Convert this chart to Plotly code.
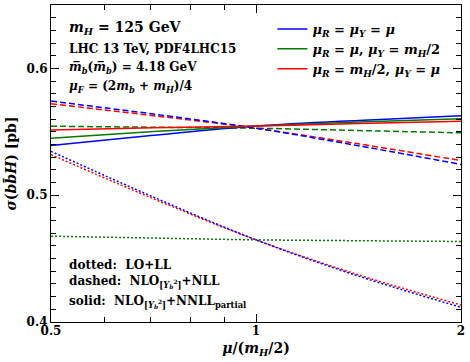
import plotly.graph_objects as go

# scale mu/(mH/2)
mu = [0.5, 0.7071, 1.0, 1.4142, 2.0]

# cross sections [pb]
blue_dotted = [0.5346, 0.4985, 0.4648, 0.4362, 0.4116]
red_dotted = [0.5320, 0.4972, 0.4648, 0.4372, 0.4134]
green_dotted = [0.4677, 0.4662, 0.4648, 0.4641, 0.4635]

blue_dashed = [0.5742, 0.5640, 0.5528, 0.5390, 0.5243]
red_dashed = [0.5721, 0.5627, 0.5528, 0.5405, 0.5273]
green_dashed = [0.5544, 0.5536, 0.5528, 0.5510, 0.5492]

blue_solid = [0.5391, 0.5472, 0.5545, 0.5590, 0.5626]
green_solid = [0.5449, 0.5502, 0.5545, 0.5578, 0.5602]
red_solid = [0.5515, 0.5531, 0.5545, 0.5565, 0.5583]

BLUE, GREEN, RED = "#0000ff", "#007a00", "#ff0000"
FONT = "DejaVu Serif"

legend_names = [
    "<i>μ</i><sub><i>R</i></sub> = <i>μ</i><sub><i>Y</i></sub> = <i>μ</i>",
    "<i>μ</i><sub><i>R</i></sub> = <i>μ</i>, <i>μ</i><sub><i>Y</i></sub> = <i>m</i><sub><i>H</i></sub>/2",
    "<i>μ</i><sub><i>R</i></sub> = <i>m</i><sub><i>H</i></sub>/2, <i>μ</i><sub><i>Y</i></sub> = <i>μ</i>",
]

fig = go.Figure()

# dotted and dashed curves (not in legend)
for ys, col, dash in [
    (green_dotted, GREEN, "2px,2px"), (red_dotted, RED, "2px,2px"), (blue_dotted, BLUE, "2px,2px"),
    (green_dashed, GREEN, "6px,3px"), (red_dashed, RED, "6px,3px"), (blue_dashed, BLUE, "6px,3px"),
]:
    fig.add_trace(go.Scatter(x=mu, y=ys, mode="lines", showlegend=False,
                             line=dict(color=col, width=1.5, dash=dash, shape="spline")))

# solid curves with legend
for ys, col, name in [(blue_solid, BLUE, legend_names[0]),
                      (green_solid, GREEN, legend_names[1]),
                      (red_solid, RED, legend_names[2])]:
    fig.add_trace(go.Scatter(x=mu, y=ys, mode="lines", name=name,
                             line=dict(color=col, width=1.5, shape="spline")))

def px_to_paper(ypix):
    return 1 - (ypix - 5) / 317

texts = [
    ("<i>m</i><sub><i>H</i></sub> = 125 GeV", 28, 14),
    ("LHC 13 TeV, PDF4LHC15", 49, 12),
    ("<i>m\u0305</i><sub><i>b</i></sub>(<i>m\u0305</i><sub><i>b</i></sub>) = 4.18 GeV", 68, 12),
    ("<i>μ</i><sub><i>F</i></sub> = (2<i>m</i><sub><i>b</i></sub> + <i>m</i><sub><i>H</i></sub>)/4", 87, 12),
    ("dotted:  LO+LL", 265, 12),
    ("dashed:  NLO<sub>[<i>Y</i><sub><i>b</i></sub><sup>2</sup>]</sub>+NLL", 282, 12),
    ("solid:  NLO<sub>[<i>Y</i><sub><i>b</i></sub><sup>2</sup>]</sub>+NNLL<sub>partial</sub>", 302, 12),
]
for t, ypix, size in texts:
    fig.add_annotation(text=t, xref="paper", yref="paper", x=0.04, y=px_to_paper(ypix),
                       xanchor="left", yanchor="middle", valign="middle", showarrow=False,
                       font=dict(family=FONT, size=size, color="black", weight="bold"))

axis_common = dict(showline=True, linecolor="black", linewidth=1.2, mirror="allticks",
                   ticks="inside", ticklen=8, tickcolor="black", showgrid=False, zeroline=False,
                   tickfont=dict(family=FONT, size=12, color="black", weight="bold"))

fig.update_xaxes(type="log", range=[-0.30103, 0.30103], tickvals=[0.5, 1, 2],
                 ticktext=["0.5", "1", "2"], ticklabelstandoff=-3,
                 minor=dict(tickvals=[0.6, 0.7, 0.8, 0.9], ticklen=5, ticks="inside",
                            tickcolor="black", showgrid=False),
                 title=dict(text="<i>μ</i>/(<i>m</i><sub><i>H</i></sub>/2)", standoff=6,
                            font=dict(family=FONT, size=14, color="black", weight="bold")),
                 **axis_common)
fig.update_yaxes(range=[0.4, 0.65], tickvals=[0.4, 0.5, 0.6],
                 minor=dict(dtick=0.01, ticklen=5, ticks="inside", tickcolor="black", showgrid=False),
                 title=dict(text="<i>σ</i>(<i>bb\u0304H</i>) [pb]", standoff=6,
                            font=dict(family=FONT, size=14, color="black", weight="bold")),
                 **axis_common)

fig.update_layout(
    width=470, height=362,
    margin=dict(l=51, r=9, t=5, b=40),
    plot_bgcolor="white", paper_bgcolor="white",
    legend=dict(x=0.54, y=px_to_paper(14), xanchor="left", yanchor="top",
                bgcolor="rgba(0,0,0,0)", font=dict(family=FONT, size=13, color="black", weight="bold"),
                tracegroupgap=0),
)

fig.write_html("out.html", config={"displayModeBar": False},
               post_script="document.body.style.margin='0';")
